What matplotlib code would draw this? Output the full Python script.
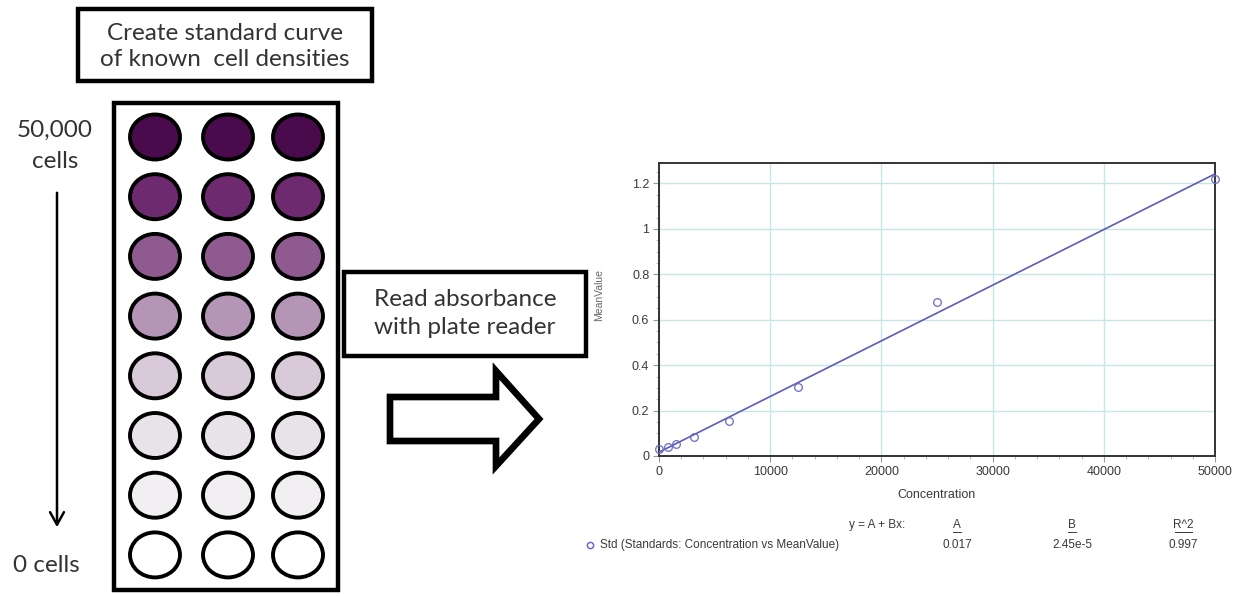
import matplotlib
matplotlib.use("Agg")
import matplotlib.pyplot as plt
from matplotlib.patches import Ellipse, Rectangle, Polygon, FancyArrowPatch
from matplotlib.ticker import MultipleLocator
import numpy as np

# ---- data ----
concentration = [0, 781.25, 1562.5, 3125, 6250, 12500, 25000, 50000]
mean_value = [0.030, 0.038, 0.052, 0.085, 0.155, 0.305, 0.680, 1.220]
fit_A = 0.017
fit_B = 2.45e-5
fit_R2 = 0.997
well_row_colors = ["#4a0b4c", "#6e2a6e", "#8f5a90", "#b495b6",
                   "#d8cad9", "#e8e2e9", "#f2eff3", "#ffffff"]
n_cols = 3
x_ticks = [0, 10000, 20000, 30000, 40000, 50000]
y_ticks = [0, 0.2, 0.4, 0.6, 0.8, 1.0, 1.2]
y_tick_labels = ["0", "0.2", "0.4", "0.6", "0.8", "1", "1.2"]

W, H = 1242, 596
fig = plt.figure(figsize=(W / 100, H / 100), dpi=100)
fig.patch.set_facecolor("white")

# background canvas in pixel coords
bg = fig.add_axes([0, 0, 1, 1])
bg.set_xlim(0, W)
bg.set_ylim(H, 0)
bg.axis("off")

CAL = ["Lato", "DejaVu Sans"]
txtc = "#333333"
FS = 17.5

# title box
bg.add_patch(Rectangle((78, 9), 294, 72, fill=False, lw=3.2, ec="black"))
bg.text(225, 33, "Create standard curve", ha="center", va="center",
        fontsize=FS, family=CAL, color=txtc)
bg.text(225, 59, "of known  cell densities", ha="center", va="center",
        fontsize=FS, family=CAL, color=txtc)

# plate
bg.add_patch(Rectangle((114, 103), 224, 487, fill=False, lw=3.2, ec="black"))
col_x = [155, 228, 298]
row_y0, row_dy = 137, 59.7
for r, c in enumerate(well_row_colors):
    for k in range(n_cols):
        bg.add_patch(Ellipse((col_x[k], row_y0 + r * row_dy), 50, 45,
                             fc=c, ec="black", lw=2.8))

# side labels + arrow
bg.text(55, 130, "50,000", ha="center", va="center", fontsize=FS,
        family=CAL, color=txtc)
bg.text(55, 162, "cells", ha="center", va="center", fontsize=FS,
        family=CAL, color=txtc)
bg.text(46, 565, "0 cells", ha="center", va="center", fontsize=FS,
        family=CAL, color=txtc)
bg.add_patch(FancyArrowPatch((57, 190), (57, 530), arrowstyle="->,head_width=5,head_length=9",
                             lw=1.8, color="black", mutation_scale=1))

# read absorbance box
bg.add_patch(Rectangle((344, 272), 242, 84, fill=False, lw=3.2, ec="black"))
bg.text(465, 300, "Read absorbance", ha="center", va="center", fontsize=FS,
        family=CAL, color=txtc)
bg.text(465, 328, "with plate reader", ha="center", va="center", fontsize=FS,
        family=CAL, color=txtc)

# block arrow
arrow_pts = [(390, 397), (496, 397), (496, 371), (539, 419),
             (496, 466), (496, 441), (390, 441)]
bg.add_patch(Polygon(arrow_pts, closed=True, fc="white", ec="black", lw=4.8,
                     joinstyle="miter"))

# ---- chart ----
L, R, T, B = 659, 1215, 163, 456
ax = fig.add_axes([L / W, (H - B) / H, (R - L) / W, (B - T) / H])
ARIAL = ["Liberation Sans", "DejaVu Sans"]
line_c = "#5c5cb4"
xs = np.array([0, 50000])
ax.plot(xs, fit_A + fit_B * xs, color=line_c, lw=1.2, zorder=3)
ax.plot(concentration, mean_value, ls="none", marker="o", ms=5.5,
        mfc="none", mec="#6a6ac8", mew=0.9, zorder=4, clip_on=False)
ax.set_xlim(0, 50000)
ax.set_ylim(0, 1.29)
ax.set_xticks(x_ticks)
ax.set_xticklabels([str(v) for v in x_ticks], family=ARIAL, fontsize=9, color="#3a3a3a")
ax.set_yticks(y_ticks)
ax.set_yticklabels(y_tick_labels, family=ARIAL, fontsize=9, color="#3a3a3a")
ax.xaxis.set_minor_locator(MultipleLocator(2000))
ax.yaxis.set_minor_locator(MultipleLocator(0.05))
ax.tick_params(which="major", direction="out", length=4, width=0.8, color="#999999", pad=3)
ax.tick_params(which="minor", direction="out", length=2, width=0.6, color="#aaaaaa")
ax.grid(True, which="major", color="#c7e7e7", lw=1.0)
ax.set_axisbelow(True)
for s in ax.spines.values():
    s.set_color("#333333")
    s.set_linewidth(1.4)
ax.set_xlabel("Concentration", family=ARIAL, fontsize=9, color="#3a3a3a", labelpad=8)
fig.text(599 / W, 1 - 295 / H, "MeanValue", rotation=90, ha="center", va="center",
         family=ARIAL, fontsize=7.5, color="#666666")

# legend / fit table
fs = 8.5
fig.text(905 / W, 1 - 525 / H, "y = A + Bx:", ha="right", va="center",
         family=ARIAL, fontsize=fs, color="#3a3a3a")
for xc, lab, w in [(957, "A", 8), (1072, "B", 8), (1183, "R^2", 17)]:
    fig.text(xc / W, 1 - 525 / H, lab, ha="center", va="center",
             family=ARIAL, fontsize=fs, color="#3a3a3a")
    bg.plot([xc - w / 2, xc + w / 2], [532, 532], color="#3a3a3a", lw=0.7)
bg.plot([590], [545], ls="none", marker="o", ms=4.5, mfc="none",
        mec="#6a6ac8", mew=1.1)
fig.text(600 / W, 1 - 545 / H, "Std (Standards: Concentration vs MeanValue)",
         ha="left", va="center", family=ARIAL, fontsize=fs, color="#3a3a3a")
for xc, val in [(957, f"{fit_A:.3f}"), (1072, "2.45e-5"), (1183, f"{fit_R2:.3f}")]:
    fig.text(xc / W, 1 - 545 / H, val, ha="center", va="center",
             family=ARIAL, fontsize=fs, color="#3a3a3a")

fig.savefig("out.png", dpi=100, facecolor="white")
